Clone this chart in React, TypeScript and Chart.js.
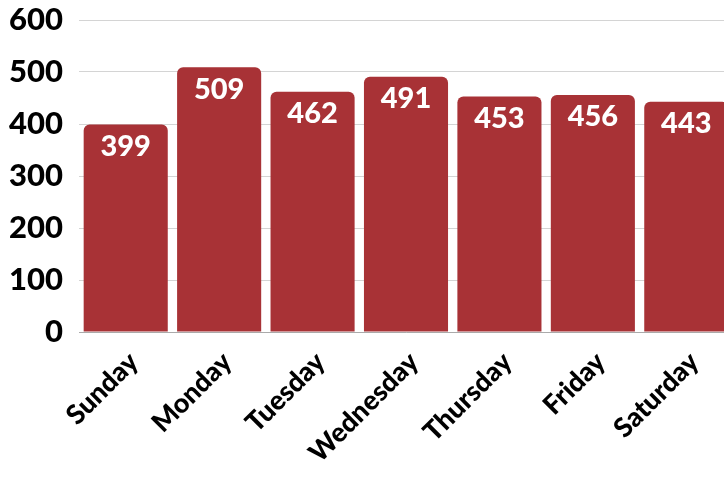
import React, { useEffect, useRef } from "react";
import { Chart, registerables } from "chart.js";

Chart.register(...registerables);

const categories = ["Sunday", "Monday", "Tuesday", "Wednesday", "Thursday", "Friday", "Saturday"];
const visits = [399, 509, 462, 491, 453, 456, 443];
const yTicks = [0, 100, 200, 300, 400, 500, 600];

const FONT = "Lato, 'DejaVu Sans', sans-serif";
const BAR = "#A83236";

const valueLabels = {
  id: "valueLabels",
  afterDatasetsDraw(chart: any) {
    const ctx = chart.ctx;
    const meta = chart.getDatasetMeta(0);
    ctx.save();
    ctx.fillStyle = "#ffffff";
    ctx.font = `900 29px ${FONT}`;
    ctx.textAlign = "center";
    ctx.textBaseline = "middle";
    meta.data.forEach((bar: any, i: number) => {
      ctx.fillText(String(visits[i]), bar.x, bar.y + 22);
    });
    ctx.restore();
  },
};

export default function App() {
  const ref = useRef<HTMLCanvasElement | null>(null);
  useEffect(() => {
    document.body.style.margin = "0";
    document.body.style.overflow = "hidden";
    const chart = new Chart(ref.current!, {
      type: "bar",
      data: {
        labels: categories,
        datasets: [
          {
            data: visits,
            backgroundColor: BAR,
            borderRadius: 6,
            borderSkipped: "start",
            barPercentage: 0.9,
            categoryPercentage: 1,
          },
        ],
      },
      options: {
        animation: false,
        responsive: false,
        layout: { padding: { top: 20, right: 0, left: 0, bottom: 0 } },
        plugins: { legend: { display: false }, tooltip: { enabled: false } },
        scales: {
          x: {
            grid: { display: false },
            border: { display: true, color: "#aaaaaa" },
            ticks: {
              color: "#000",
              font: { family: FONT, size: 27, weight: "900" },
              maxRotation: 45,
              minRotation: 45,
              padding: 6,
              labelOffset: 8,
            },
            afterFit(scale: any) {
              scale.height = 150;
              scale.paddingLeft = 0;
              scale.paddingRight = 0;
            },
          },
          y: {
            min: 0,
            max: 600,
            afterBuildTicks(scale: any) {
              scale.ticks = yTicks.map((v) => ({ value: v }));
            },
            grid: { color: "#d4d4d4", drawTicks: false },
            border: { display: false },
            ticks: {
              color: "#000",
              font: { family: FONT, size: 31, weight: "900" },
              padding: 16,
            },
            afterFit(scale: any) {
              scale.width = 79;
              scale.paddingTop = 0;
              scale.paddingBottom = 0;
            },
          },
        },
      },
      plugins: [valueLabels],
    });
    return () => chart.destroy();
  }, []);
  return <canvas ref={ref} width={733} height={482} style={{ display: "block" }} />;
}
